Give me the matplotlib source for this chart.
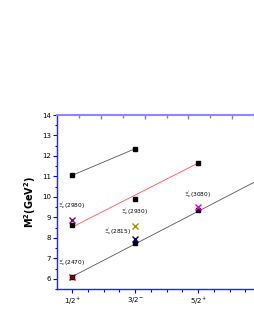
import matplotlib
matplotlib.use("Agg")
import matplotlib.pyplot as plt

# spin-parity positions (J)
j_top = [0.5, 1.5]
m2_top = [11.05, 12.35]
j_mid = [0.5, 1.5, 2.5]
m2_mid = [8.65, 9.9, 11.65]
j_low = [0.5, 1.5, 2.5]
m2_low = [6.1, 7.75, 9.35]
fit_low_j = [0.5, 3.6]
fit_low_m2 = [6.1, 11.05]
fit_mid_j = [0.5, 2.5]
fit_mid_m2 = [8.52, 11.65]

# experimental states
exp_names = ["2470", "2980", "2815", "2930", "3080"]
exp_j = [0.5, 0.5, 1.5, 1.5, 2.5]
exp_m2 = [6.10, 8.88, 7.92, 8.58, 9.49]
exp_colors = ["#8b0000", "#800080", "#00008b", "#999900", "#e000e0"]

xticks = [0.5, 1.5, 2.5, 3.5]
xticklabels = [r"1/2$^{+}$", r"3/2$^{-}$", r"5/2$^{+}$", r"7/2$^{-}$"]
top_major = [0.956, 1.654, 2.346, 3.04]
top_minor = [0.616, 1.305, 2.003, 2.695, 3.39]

fig = plt.figure(figsize=(2.55, 3.3), dpi=100)
ax = fig.add_axes([0.2235, 0.1242, 0.862, 0.5273])

ax.plot(j_top, m2_top, color="#555555", lw=0.6)
ax.plot(fit_mid_j, fit_mid_m2, color="#ff5555", lw=0.6)
ax.plot(fit_low_j, fit_low_m2, color="#555555", lw=0.6)

for js, ms in [(j_top, m2_top), (j_mid, m2_mid), (j_low, m2_low)]:
    ax.plot(js, ms, "s", color="black", ms=2.5)

for n, x, y, c in zip(exp_names, exp_j, exp_m2, exp_colors):
    ax.plot(x, y, "x", color=c, ms=5, mew=1.0)

lab_pos = {"2470": (0.5, 6.55), "2980": (0.5, 9.3), "2815": (1.22, 8.05),
           "2930": (1.5, 9.0), "3080": (2.5, 9.85)}
for n in exp_names:
    x, y = lab_pos[n]
    ax.text(x, y, r"$\Xi_c^{'}$(" + n + ")", fontsize=4.2, ha="center", va="bottom")

ax.set_xlim(0.262, 3.75)
ax.set_ylim(5.5, 14)
ax.set_xticks(xticks)
ax.set_xticklabels(xticklabels, fontsize=5)
ax.set_xticks([0.75, 1.0, 1.25, 1.75, 2.0, 2.25, 2.75, 3.0, 3.25], minor=True)
ax.set_yticks(range(6, 15))
ax.set_yticklabels([str(v) for v in range(6, 15)], fontsize=5)
ax.set_yticks([5.5 + k for k in range(9)], minor=True)
ax.tick_params(direction="out", length=3, width=0.8, colors="blue",
               labelcolor="black", pad=1.5)
ax.tick_params(which="minor", direction="out", length=1.8, width=0.8,
               colors="blue")
for s in ax.spines.values():
    s.set_color("#2222ff")
    s.set_linewidth(1.0)
ax.spines["top"].set_visible(False)

top = ax.twiny()
top.set_xlim(ax.get_xlim())
top.set_xticks(top_major)
top.set_xticks(top_minor, minor=True)
top.set_xticklabels([])
top.tick_params(axis="x", direction="in", length=3, width=1.0, colors="#7777ff")
top.tick_params(axis="x", which="minor", direction="in", length=1.8, width=1.0,
                colors="#7777ff")
for k in ["left", "right", "bottom"]:
    top.spines[k].set_visible(False)
top.spines["top"].set_color("#8888ff")
top.spines["top"].set_linewidth(1.5)

ax.set_ylabel(r"M$^\mathbf{2}$(GeV$^\mathbf{2}$)", fontsize=7, fontweight="bold", labelpad=3)

fig.savefig("out.png", dpi=100)
